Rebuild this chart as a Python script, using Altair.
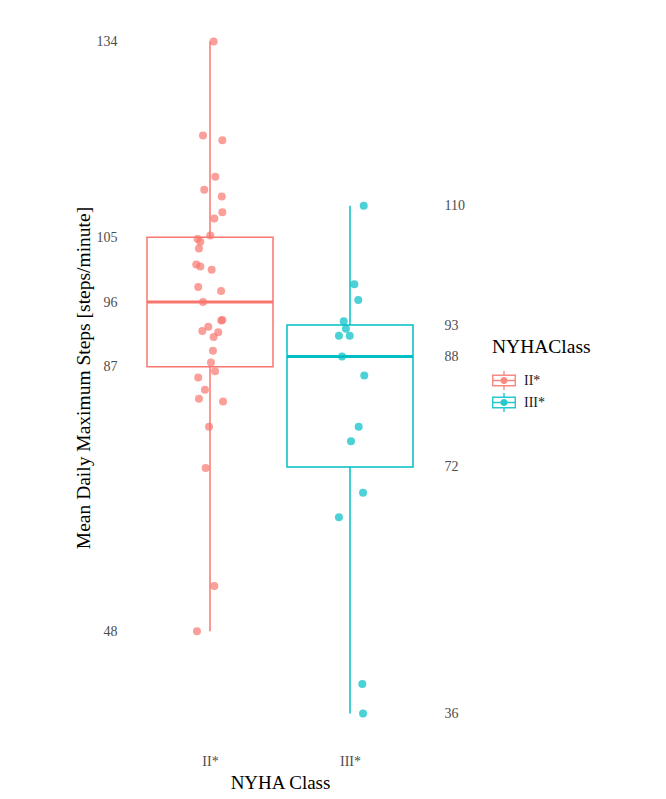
import altair as alt
import numpy as np
import pandas as pd

classes = ["II*", "III*"]
class_colors = ["#F8766D", "#00BFC4"]

ii_steps = [134.0, 120.3, 119.6, 114.3, 112.4, 111.4, 109.1, 108.2, 105.7, 105.2,
            104.8, 103.8, 101.5, 101.2, 100.7, 98.2, 97.6, 96.0, 93.3, 93.4,
            92.4, 91.8, 91.6, 90.9, 88.9, 87.2, 85.9, 85.0, 83.2, 81.9,
            81.5, 77.8, 71.8, 54.6, 48.0]
ii_jitter = [0.026, -0.05, 0.088, 0.038, -0.041, 0.084, 0.088, 0.031, 0.002, -0.088,
             -0.069, -0.079, -0.098, -0.069, 0.012, -0.084, 0.079, -0.05, 0.081, 0.088,
             -0.012, -0.055, 0.059, 0.026, 0.021, 0.007, 0.036, -0.084, -0.036, -0.079,
             0.093, -0.007, -0.031, 0.031, -0.093]
iii_steps = [110.05, 98.6, 96.3, 93.2, 92.1, 91.1, 91.1, 88.05, 85.3, 77.8,
             75.7, 68.2, 64.6, 40.3, 36.0]
iii_jitter = [0.098, 0.031, 0.059, -0.045, -0.029, -0.079, -0.002, -0.057, 0.102, 0.062,
              0.007, 0.093, -0.079, 0.088, 0.093]

points = pd.DataFrame({
    "NYHAClass": [classes[0]] * len(ii_steps) + [classes[1]] * len(iii_steps),
    "steps": ii_steps + iii_steps,
    "xpos": [1 + j for j in ii_jitter] + [2 + j for j in iii_jitter],
})


def box_stats(vals, pos, name):
    q1, med, q3 = np.percentile(vals, [25, 50, 75])
    return {"NYHAClass": name, "pos": pos, "left": pos - 0.45, "right": pos + 0.45,
            "lo": min(vals), "q1": q1, "med": med, "q3": q3, "hi": max(vals)}


box = pd.DataFrame([box_stats(ii_steps, 1, classes[0]), box_stats(iii_steps, 2, classes[1])])
ii_ticks = [float(box.loc[0, k]) for k in ["hi", "q3", "med", "q1", "lo"]]
iii_ticks = [float(box.loc[1, k]) for k in ["hi", "q3", "med", "q1", "lo"]]

FONT = "Liberation Serif"
yscale = alt.Scale(domain=[31.1, 138.9], nice=False, zero=False)
xscale = alt.Scale(domain=[0.4, 2.6], nice=False, zero=False)
cscale = alt.Scale(domain=classes, range=class_colors)

left_axis = alt.Axis(orient="left", values=ii_ticks, format=".0f", labelPadding=9,
                     title="Mean Daily Maximum Steps [steps/minute]", titlePadding=3,
                     labelColor="#4D4D4D", labelFontSize=14, titleFontSize=19.5,
                     titleFontWeight="normal", titleColor="#000000")
right_axis = alt.Axis(orient="right", values=iii_ticks, format=".0f", labelPadding=10,
                      title="", labelColor="#4D4D4D", labelFontSize=14)
x_axis = alt.Axis(values=[1, 2], labelExpr="datum.value == 1 ? 'II*' : 'III*'",
                  title="NYHA Class", labelPadding=7, titlePadding=5,
                  labelColor="#4D4D4D", labelFontSize=14, titleFontSize=19,
                  titleFontWeight="normal", titleColor="#000000")

legend_path = ("M-1,-0.5H1V0.5H-1Z "
               "M-0.88,-0.38V0.38H0.88V-0.38Z "
               "M-0.88,-0.06H0.88V0.06H-0.88Z "
               "M-0.06,-0.8H0.06V-0.5H-0.06Z "
               "M-0.06,0.5H0.06V0.8H-0.06Z "
               "M0.3,0A0.3,0.3 0 1,1 -0.3,0A0.3,0.3 0 1,1 0.3,0Z")

base_box = alt.Chart(box)

whisk_hi = base_box.mark_rule(strokeWidth=1.5).encode(
    x=alt.X("pos:Q", scale=xscale, axis=None),
    y=alt.Y("q3:Q", scale=yscale, axis=left_axis),
    y2="hi:Q",
    color=alt.Color("NYHAClass:N", scale=cscale, legend=None),
)
whisk_lo = base_box.mark_rule(strokeWidth=1.5).encode(
    x=alt.X("pos:Q", scale=xscale, axis=None),
    y=alt.Y("lo:Q", scale=yscale, axis=None),
    y2="q1:Q",
    color=alt.Color("NYHAClass:N", scale=cscale, legend=None),
)
rect = base_box.mark_rect(fill="white", strokeWidth=1.5).encode(
    x=alt.X("left:Q", scale=xscale, axis=None),
    x2="right:Q",
    y=alt.Y("q1:Q", scale=yscale, axis=None),
    y2="q3:Q",
    stroke=alt.Stroke("NYHAClass:N", scale=cscale, legend=None),
)
median = base_box.mark_rule(strokeWidth=3).encode(
    x=alt.X("left:Q", scale=xscale, axis=None),
    x2="right:Q",
    y=alt.Y("med:Q", scale=yscale, axis=None),
    color=alt.Color("NYHAClass:N", scale=cscale, legend=None),
)
pts = alt.Chart(points).mark_circle(size=64, opacity=0.7).encode(
    x=alt.X("xpos:Q", scale=xscale, axis=x_axis),
    y=alt.Y("steps:Q", scale=yscale, axis=right_axis),
    color=alt.Color("NYHAClass:N", scale=cscale, legend=alt.Legend(
        title="NYHAClass", orient="none", legendX=366, legendY=330,
        symbolType=legend_path, symbolSize=576, symbolStrokeWidth=0, symbolOpacity=0.85,
        titleFontSize=19.5, titleFontWeight="normal", titleColor="#000000",
        labelFontSize=14, labelColor="#1A1A1A", labelOffset=8,
        rowPadding=0, titlePadding=11, padding=0)),
)

chart = alt.layer(whisk_hi, whisk_lo, rect, median, pts).resolve_axis(
    x="independent", y="independent"
).resolve_legend(
    color="independent", stroke="independent"
).properties(
    width=308, height=739,
    autosize=alt.AutoSizeParams(type="none"),
    padding={"left": 118, "top": 0, "right": 224, "bottom": 44},
).configure(font=FONT).configure_view(stroke=None).configure_axis(
    grid=False, domain=False, ticks=False
)

chart.save("out.html", embed_options={"renderer": "svg", "actions": False})
